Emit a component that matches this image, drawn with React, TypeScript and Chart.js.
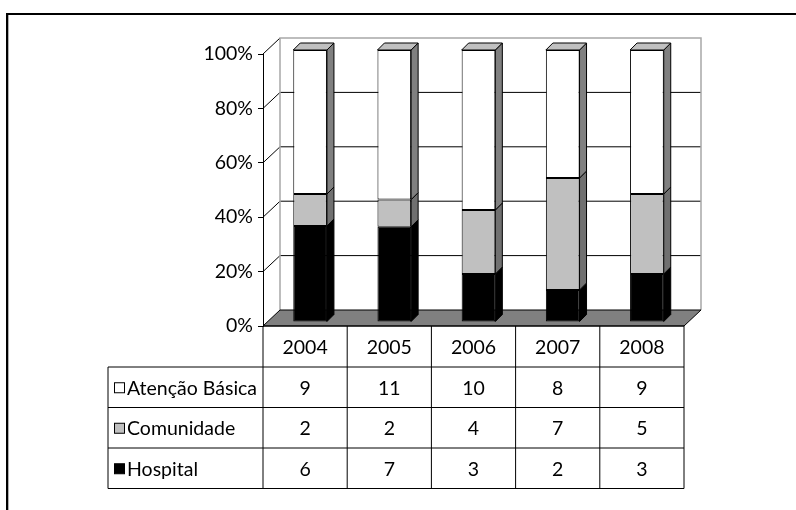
import React, { useEffect, useRef } from "react";
import { Chart, registerables } from "chart.js";
Chart.register(...registerables);

const years = ["2004", "2005", "2006", "2007", "2008"];
const atencaoBasica = [9, 11, 10, 8, 9];
const comunidade = [2, 2, 4, 7, 5];
const hospital = [6, 7, 3, 2, 3];
const yTicks = [0, 20, 40, 60, 80, 100];

const FONT_FAMILY = "Lato";
const FONT_SIZE = 19.5;

const totals = years.map((_, i) => atencaoBasica[i] + comunidade[i] + hospital[i]);
const pct = (arr: number[]) => arr.map((v, i) => (v / totals[i]) * 100);

// dataset order: bottom -> top
const seriesInfo = [
  { name: "Hospital", counts: hospital, fill: "#000000", side: "#000000", top: "#333333" },
  { name: "Comunidade", counts: comunidade, fill: "#c0c0c0", side: "#707070", top: "#9a9a9a" },
  { name: "Atenção Básica", counts: atencaoBasica, fill: "#ffffff", side: "#808080", top: "#c0c0c0" },
];
// table row order (top -> bottom)
const tableRows = [seriesInfo[2], seriesInfo[1], seriesInfo[0]];

const WALL = { x: 17, y: 16 };
const FRONT = { x: 5, y: 4 };
const BAR_DEPTH = 7;

const ROW_H = 40.5;
const HEADER_H = 41;
const TABLE_LEFT = 108;

const threeD = {
  id: "threeD",
  beforeDatasetsDraw(chart: any) {
    const { ctx, chartArea: a, scales } = chart;
    const y = scales.y;
    const bl = a.left + WALL.x, br = a.right + WALL.x;
    const bt = a.top - WALL.y, bb = a.bottom - WALL.y;
    ctx.save();
    ctx.fillStyle = "#ffffff";
    ctx.fillRect(bl, bt, br - bl, bb - bt);
    ctx.lineWidth = 1;
    yTicks.forEach((t) => {
      if (t === 0) return;
      const py = y.getPixelForValue(t);
      ctx.strokeStyle = "#000";
      ctx.beginPath();
      ctx.moveTo(a.left, py);
      ctx.lineTo(bl, py - WALL.y);
      if (t !== 100) ctx.lineTo(br, py - WALL.y);
      ctx.stroke();
    });
    ctx.strokeStyle = "#a8a8a8";
    ctx.lineWidth = 1.5;
    ctx.beginPath();
    ctx.moveTo(bl, bb);
    ctx.lineTo(bl, bt);
    ctx.lineTo(br, bt);
    ctx.lineTo(br, bb);
    ctx.stroke();
    ctx.beginPath();
    ctx.moveTo(a.left, a.bottom);
    ctx.lineTo(a.right, a.bottom);
    ctx.lineTo(br, bb);
    ctx.lineTo(bl, bb);
    ctx.closePath();
    ctx.fillStyle = "#808080";
    ctx.fill();
    ctx.strokeStyle = "#000";
    ctx.lineWidth = 1;
    ctx.stroke();
    ctx.translate(FRONT.x, -FRONT.y);
  },
  afterDatasetsDraw(chart: any) {
    const { ctx } = chart;
    const nSets = chart.data.datasets.length;
    chart.data.datasets.forEach((_: any, di: number) => {
      const meta = chart.getDatasetMeta(di);
      const info = seriesInfo[di];
      meta.data.forEach((el: any) => {
        const p = el.getProps(["x", "y", "base", "width"], true);
        const xl = p.x - p.width / 2;
        const xr = p.x + p.width / 2;
        const top = Math.min(p.y, p.base);
        const bot = Math.max(p.y, p.base);
        ctx.lineWidth = 1;
        ctx.strokeStyle = "#000";
        ctx.beginPath();
        ctx.moveTo(xr, top);
        ctx.lineTo(xr + BAR_DEPTH, top - BAR_DEPTH);
        ctx.lineTo(xr + BAR_DEPTH, bot - BAR_DEPTH);
        ctx.lineTo(xr, bot);
        ctx.closePath();
        ctx.fillStyle = info.side;
        ctx.fill();
        ctx.stroke();
        if (di === nSets - 1) {
          ctx.beginPath();
          ctx.moveTo(xl, top);
          ctx.lineTo(xl + BAR_DEPTH, top - BAR_DEPTH);
          ctx.lineTo(xr + BAR_DEPTH, top - BAR_DEPTH);
          ctx.lineTo(xr, top);
          ctx.closePath();
          ctx.fillStyle = info.top;
          ctx.fill();
          ctx.stroke();
        }
      });
    });
    ctx.restore();
  },
  afterDraw(chart: any) {
    const { ctx, chartArea: a, scales } = chart;
    const x = scales.x;
    const n = years.length;
    const colW = (a.right - a.left) / n;
    const headTop = a.bottom;
    const headBot = headTop + HEADER_H;
    const tableBot = headBot + ROW_H * tableRows.length;
    ctx.save();
    ctx.strokeStyle = "#000";
    ctx.lineWidth = 1;
    for (let i = 0; i <= n; i++) {
      const px = a.left + i * colW;
      ctx.beginPath();
      ctx.moveTo(px, headTop);
      ctx.lineTo(px, tableBot);
      ctx.stroke();
    }
    ctx.beginPath();
    ctx.moveTo(TABLE_LEFT, headBot);
    ctx.lineTo(TABLE_LEFT, tableBot);
    ctx.stroke();
    for (let r = 0; r <= tableRows.length; r++) {
      const py = headBot + r * ROW_H;
      ctx.beginPath();
      ctx.moveTo(TABLE_LEFT, py);
      ctx.lineTo(a.right, py);
      ctx.stroke();
    }
    ctx.beginPath();
    ctx.moveTo(a.left, headTop);
    ctx.lineTo(a.right, headTop);
    ctx.stroke();
    ctx.fillStyle = "#000";
    ctx.font = `${FONT_SIZE}px ${FONT_FAMILY}`;
    ctx.textBaseline = "middle";
    ctx.textAlign = "center";
    years.forEach((yr, i) => {
      const cx = x.getPixelForValue(i);
      ctx.fillText(yr, cx, (headTop + headBot) / 2 + 1);
    });
    tableRows.forEach((row, r) => {
      const cy = headBot + r * ROW_H + ROW_H / 2 + 1;
      ctx.textAlign = "center";
      row.counts.forEach((v, i) => {
        ctx.fillText(String(v), x.getPixelForValue(i), cy);
      });
      ctx.fillStyle = row.fill;
      ctx.fillRect(114.5, cy - 5.5, 10, 10);
      ctx.strokeStyle = "#000";
      ctx.strokeRect(114.5, cy - 5.5, 10, 10);
      ctx.fillStyle = "#000";
      ctx.textAlign = "left";
      ctx.fillText(row.name, 127, cy);
    });
    ctx.fillStyle = "#000";
    ctx.fillRect(6, 13, 796 - 6, 2);
    ctx.fillRect(6, 13, 2, 510 - 13);
    ctx.fillStyle = "#b0b0b0";
    ctx.fillRect(8, 15, 1, 510 - 15);
    ctx.restore();
  },
};

export default function App() {
  const ref = useRef<HTMLCanvasElement | null>(null);
  useEffect(() => {
    if (!ref.current) return;
    const chart = new Chart(ref.current, {
      type: "bar",
      data: {
        labels: years,
        datasets: seriesInfo.map((s) => ({
          label: s.name,
          data: pct(s.counts),
          backgroundColor: s.fill,
          borderColor: "#000",
          borderWidth: 1,
          borderSkipped: false,
          categoryPercentage: 1,
          barPercentage: 0.4,
          clip: false as any,
        })),
      },
      options: {
        responsive: false,
        animation: false,
        devicePixelRatio: 1,
        layout: { padding: { left: 0, top: 54, right: 112, bottom: 184 } },
        plugins: { legend: { display: false }, tooltip: { enabled: false } },
        scales: {
          x: { stacked: true, display: false },
          y: {
            stacked: true,
            min: 0,
            max: 100,
            afterFit: (s: any) => {
              s.width = 263;
            },
            ticks: {
              stepSize: 20,
              color: "#000",
              padding: 5,
              font: { family: FONT_FAMILY, size: FONT_SIZE },
              callback: (v: any) => `${v}%`,
            },
            grid: { drawOnChartArea: false, drawTicks: true, tickLength: 5, color: "#000" },
            border: { display: true, color: "#000", width: 1 },
          },
        },
      },
      plugins: [threeD],
    });
    return () => chart.destroy();
  }, []);
  return (
    <div style={{ position: "absolute", left: 0, top: 0, width: 796, height: 510, background: "#fff" }}>
      <canvas ref={ref} width={796} height={510} style={{ display: "block" }} />
    </div>
  );
}
